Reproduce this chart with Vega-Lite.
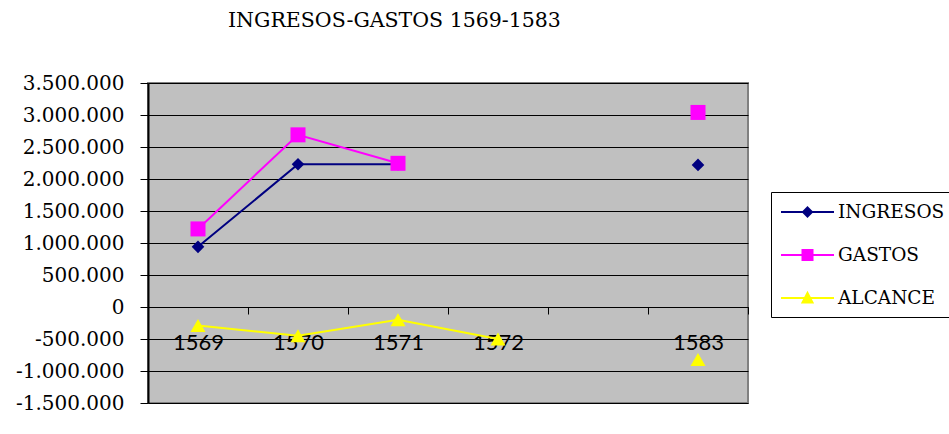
{
  "$schema": "https://vega.github.io/schema/vega-lite/v6.json",
  "autosize": {"type": "none"},
  "width": 600,
  "height": 320,
  "padding": {"left": 148, "top": 83, "right": 201, "bottom": 31},
  "background": "white",
  "config": {
    "locale": {"number": {"decimal": ",", "thousands": ".", "grouping": [3], "currency": ["", " €"], "minus": "-"}},
    "view": {"fill": "#C0C0C0", "stroke": "#808080", "strokeWidth": 2}
  },
  "title": {
    "text": "INGRESOS-GASTOS 1569-1583",
    "anchor": "start",
    "frame": "group",
    "dx": 80,
    "offset": 26,
    "font": "DejaVu Serif",
    "fontSize": 20.5,
    "fontWeight": "normal",
    "color": "black",
    "baseline": "alphabetic"
  },
  "data": {
    "values": [
      {"anio": "1569", "serie": "INGRESOS", "valor": 940000},
      {"anio": "1570", "serie": "INGRESOS", "valor": 2230000},
      {"anio": "1571", "serie": "INGRESOS", "valor": 2230000},
      {"anio": "1572", "serie": "INGRESOS", "valor": null},
      {"anio": " ", "serie": "INGRESOS", "valor": null},
      {"anio": "1583", "serie": "INGRESOS", "valor": 2220000},
      {"anio": "1569", "serie": "GASTOS", "valor": 1220000},
      {"anio": "1570", "serie": "GASTOS", "valor": 2690000},
      {"anio": "1571", "serie": "GASTOS", "valor": 2245000},
      {"anio": "1572", "serie": "GASTOS", "valor": null},
      {"anio": " ", "serie": "GASTOS", "valor": null},
      {"anio": "1583", "serie": "GASTOS", "valor": 3040000},
      {"anio": "1569", "serie": "ALCANCE", "valor": -290000},
      {"anio": "1570", "serie": "ALCANCE", "valor": -450000},
      {"anio": "1571", "serie": "ALCANCE", "valor": -200000},
      {"anio": "1572", "serie": "ALCANCE", "valor": -500000},
      {"anio": " ", "serie": "ALCANCE", "valor": null},
      {"anio": "1583", "serie": "ALCANCE", "valor": -820000}
    ]
  },
  "encoding": {
    "x": {
      "field": "anio",
      "type": "ordinal",
      "scale": {"type": "band", "domain": ["1569", "1570", "1571", "1572", " ", "1583"], "paddingInner": 0, "paddingOuter": 0},
      "axis": {
        "title": null,
        "orient": "bottom",
        "offset": -96,
        "domainColor": "black",
        "domainWidth": 1,
        "tickColor": "black",
        "tickSize": 7,
        "tickBand": "extent",
        "labelFont": "Lato",
        "labelFontSize": 22,
        "labelColor": "black",
        "labelPadding": 18,
        "labelAngle": 0,
        "grid": false
      }
    },
    "y": {
      "field": "valor",
      "type": "quantitative",
      "scale": {"domain": [-1500000, 3500000], "nice": false, "zero": false},
      "axis": {
        "title": null,
        "values": [-1500000, -1000000, -500000, 0, 500000, 1000000, 1500000, 2000000, 2500000, 3000000, 3500000],
        "format": ",d",
        "domainColor": "black",
        "domainWidth": 2,
        "tickColor": "black",
        "tickSize": 8,
        "labelFont": "DejaVu Serif",
        "labelFontSize": 20,
        "labelColor": "black",
        "labelPadding": 16,
        "grid": true,
        "gridColor": "black",
        "gridWidth": 1,
        "gridOpacity": 1
      }
    },
    "color": {
      "field": "serie",
      "type": "nominal",
      "scale": {"domain": ["INGRESOS", "GASTOS", "ALCANCE"], "range": ["#000080", "#FF00FF", "#FFFF00"]},
      "legend": {
        "orient": "none",
        "legendX": 623,
        "legendY": 109,
        "title": null,
        "padding": 9,
        "strokeColor": "black",
        "fillColor": "white",
        "labelFont": "DejaVu Serif",
        "labelFontSize": 18.5,
        "labelColor": "black",
        "labelLimit": 300,
        "symbolSize": 400,
        "labelOffset": 36,
        "rowPadding": 22,
        "encode": {
          "symbols": {
            "update": {
              "shape": {"signal": "datum.value == 'INGRESOS' ? 'M-1,0H4.3M1.65,-0.45L2.1,0L1.65,0.45L1.2,0Z' : datum.value == 'GASTOS' ? 'M-1,0H4.3M1.15,-0.5H2.15V0.5H1.15Z' : 'M-1,0H4.3M1.65,-0.5L2.15,0.45H1.15Z'"},
              "fill": {"scale": "color", "field": "value"},
              "stroke": {"scale": "color", "field": "value"},
              "strokeWidth": {"value": 2},
              "size": {"value": 400},
              "opacity": {"value": 1},
              "fillOpacity": {"value": 1},
              "strokeOpacity": {"value": 1}
            }
          }
        }
      }
    }
  },
  "layer": [
    {"mark": {"type": "line", "strokeWidth": 2}},
    {
      "transform": [{"filter": "datum.serie == 'INGRESOS'"}],
      "mark": {"type": "point", "shape": "diamond", "filled": true, "opacity": 1, "size": 160}
    },
    {
      "transform": [{"filter": "datum.serie == 'GASTOS'"}],
      "mark": {"type": "point", "shape": "square", "filled": true, "opacity": 1, "size": 225}
    },
    {
      "transform": [{"filter": "datum.serie == 'ALCANCE'"}],
      "mark": {"type": "point", "shape": "triangle-up", "filled": true, "opacity": 1, "size": 225}
    }
  ]
}
